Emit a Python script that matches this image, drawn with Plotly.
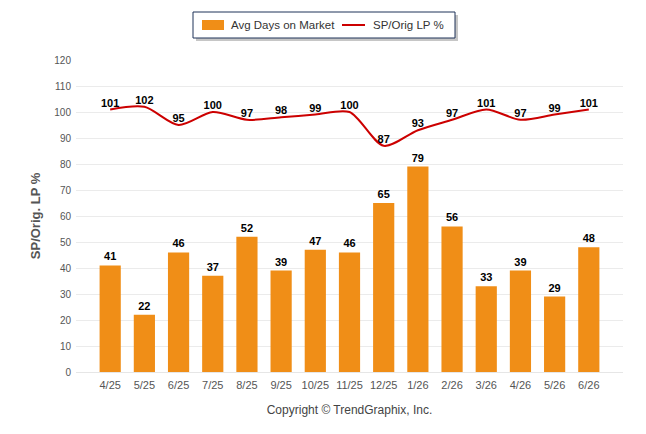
import plotly.graph_objects as go

months = ["4/25", "5/25", "6/25", "7/25", "8/25", "9/25", "10/25", "11/25",
          "12/25", "1/26", "2/26", "3/26", "4/26", "5/26", "6/26"]
avg_days = [41, 22, 46, 37, 52, 39, 47, 46, 65, 79, 56, 33, 39, 29, 48]
sp_orig_lp = [101, 102, 95, 100, 97, 98, 99, 100, 87, 93, 97, 101, 97, 99, 101]

FONT = "Liberation Sans Narrow, Liberation Sans, Arial"
# the page body adds an 8px margin, so the figure is drawn 8px smaller
OFF = 8
W, H = 646 - OFF, 434 - OFF
L, R, T, B = 76 - OFF, 23, 60 - OFF, 62


def px_x(p):
    # reference pixel -> paper x
    return (p - OFF - L) / (W - L - R)


def px_y(p):
    # reference pixel -> paper y
    return (H - B - (p - OFF)) / (H - T - B)


fig = go.Figure()

fig.add_trace(go.Bar(
    x=months, y=avg_days, name="Avg Days on Market",
    marker=dict(color="#F08E17", line=dict(width=0)),
    width=0.62,
    text=[f"<b>{v}</b>" for v in avg_days], textposition="outside",
    textfont=dict(family="Liberation Sans, Arial", size=11, color="#000000"),
    cliponaxis=False, showlegend=False,
))

fig.add_trace(go.Scatter(
    x=months, y=sp_orig_lp, name="SP/Orig LP %",
    mode="lines+text",
    line=dict(color="#CC0000", width=2, shape="spline", smoothing=0.8),
    text=[f"<b>{v}</b>" for v in sp_orig_lp], textposition="top center",
    textfont=dict(family="Liberation Sans, Arial", size=11, color="#000000"),
    cliponaxis=False, showlegend=False,
))

fig.update_layout(
    width=W, height=H,
    margin=dict(l=L, r=R, t=T, b=B, autoexpand=False),
    paper_bgcolor="white", plot_bgcolor="white",
    font=dict(family=FONT, size=11, color="#555555"),
    showlegend=False,
    xaxis=dict(
        range=[-1, 15], showgrid=False, zeroline=False,
        showline=True, linecolor="#E6E6E6", linewidth=1,
        ticks="", ticklabelstandoff=3,
        tickfont=dict(family=FONT, size=11, color="#555555"),
        title=dict(text="Copyright © TrendGraphix, Inc.",
                   font=dict(family=FONT, size=12, color="#444444"), standoff=15),
        automargin=False, fixedrange=True,
    ),
    yaxis=dict(
        range=[0, 120], dtick=10, showgrid=True, gridcolor="#EBEBEB",
        zeroline=False, showline=False, ticks="", ticklabelstandoff=4,
        tickfont=dict(family=FONT, size=10, color="#555555"),
        title=dict(text="<b>SP/Orig. LP %</b>",
                   font=dict(family="Liberation Sans, Arial", size=13, color="#555555"),
                   standoff=10),
        automargin=False,
    ),
)

# hand-drawn legend box with drop shadow, like the original
fig.add_shape(type="rect", xref="paper", yref="paper",
              x0=px_x(196), x1=px_x(458), y0=px_y(41), y1=px_y(15),
              fillcolor="#A0A0A0", line=dict(width=0), opacity=0.6)
fig.add_shape(type="rect", xref="paper", yref="paper",
              x0=px_x(193), x1=px_x(455), y0=px_y(38), y1=px_y(12),
              fillcolor="white", line=dict(color="#1F3358", width=1))
fig.add_shape(type="rect", xref="paper", yref="paper",
              x0=px_x(202), x1=px_x(224), y0=px_y(30), y1=px_y(20),
              fillcolor="#F08E17", line=dict(width=0))
fig.add_shape(type="line", xref="paper", yref="paper",
              x0=px_x(342), x1=px_x(365), y0=px_y(25), y1=px_y(25),
              line=dict(color="#CC0000", width=2))
fig.add_annotation(xref="paper", yref="paper", x=px_x(229), y=px_y(25),
                   text="Avg Days on Market", showarrow=False,
                   xanchor="left", yanchor="middle",
                   font=dict(family="Liberation Sans, Arial", size=11.5, color="#333333"))
fig.add_annotation(xref="paper", yref="paper", x=px_x(371), y=px_y(25),
                   text="SP/Orig LP %", showarrow=False,
                   xanchor="left", yanchor="middle",
                   font=dict(family="Liberation Sans, Arial", size=11.5, color="#333333"))

fig.write_html("out.html")
